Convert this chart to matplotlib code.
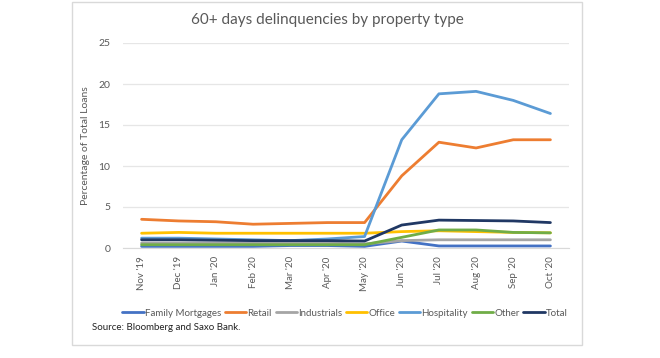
import matplotlib.pyplot as plt
from matplotlib.patches import Rectangle

plt.rcParams['font.family'] = ['Lato', 'DejaVu Sans']

# Data
months = ["Nov '19", "Dec '19", "Jan '20", "Feb '20", "Mar '20", "Apr '20",
          "May '20", "Jun '20", "Jul '20", "Aug '20", "Sep '20", "Oct '20"]

family_mortgages = [0.2, 0.2, 0.2, 0.2, 0.3, 0.3, 0.2, 0.85, 0.25, 0.25, 0.25, 0.25]
retail = [3.5, 3.3, 3.2, 2.9, 3.0, 3.1, 3.1, 8.8, 12.9, 12.2, 13.2, 13.2]
industrials = [0.6, 0.6, 0.6, 0.6, 0.6, 0.6, 0.5, 0.9, 1.0, 1.0, 1.0, 1.0]
office = [1.8, 1.9, 1.8, 1.8, 1.8, 1.8, 1.8, 2.0, 2.1, 2.0, 1.9, 1.85]
hospitality = [1.2, 1.2, 1.1, 1.0, 0.9, 1.1, 1.4, 13.2, 18.8, 19.1, 18.0, 16.4]
other = [0.4, 0.4, 0.4, 0.4, 0.4, 0.4, 0.4, 1.3, 2.2, 2.2, 1.9, 1.85]
total = [1.0, 1.0, 0.95, 0.9, 0.9, 0.9, 0.85, 2.8, 3.4, 3.35, 3.3, 3.1]

series = [
    ("Family Mortgages", family_mortgages, "#4472C4"),
    ("Retail", retail, "#ED7D31"),
    ("Industrials", industrials, "#A5A5A5"),
    ("Office", office, "#FFC000"),
    ("Hospitality", hospitality, "#5B9BD5"),
    ("Other", other, "#70AD47"),
    ("Total", total, "#203864"),
]

fig = plt.figure(figsize=(6.6, 3.58), dpi=100)
fig.patch.set_facecolor("white")

# light frame around the chart area
fig.patches.append(Rectangle((72 / 660, 1 - 345 / 358), 510 / 660, 343 / 358,
                             transform=fig.transFigure, fill=False,
                             edgecolor="#d9d9d9", linewidth=1.0))

ax = fig.add_axes([123 / 660, 110 / 358, 446 / 660, 205 / 358])

x = list(range(len(months)))
for name, vals, color in series:
    ax.plot(x, vals, color=color, linewidth=2.0, label=name, solid_capstyle="round")

ax.set_xlim(-0.5, len(months) - 0.5)
ax.set_ylim(0, 25)
ax.set_yticks([0, 5, 10, 15, 20, 25])
ax.yaxis.grid(True, color="#e6e6e6", linewidth=0.9)
ax.set_axisbelow(True)
for s in ["top", "right", "left"]:
    ax.spines[s].set_visible(False)
ax.spines["bottom"].set_color("#d9d9d9")

ax.set_xticks(x)
ax.set_xticklabels(months, rotation=90, fontsize=7, color="#595959")
ax.tick_params(axis="y", labelsize=7.5, labelcolor="#595959", length=0, pad=9)
ax.tick_params(axis="x", length=0, pad=6)

ax.set_ylabel("Percentage of Total Loans", fontsize=7.5, color="#595959", labelpad=6)

fig.text(327 / 660, 1 - 20 / 358, "60+ days delinquencies by property type",
         ha="center", va="center", fontsize=11, color="#595959")

fig.legend(loc="center", bbox_to_anchor=(345 / 660, 1 - 313 / 358), ncol=7,
           frameon=False, fontsize=7, handlelength=2.2, handletextpad=0.1,
           columnspacing=0.4, labelcolor="#595959")

fig.text(92 / 660, 1 - 328 / 358, "Source: Bloomberg and Saxo Bank.",
         ha="left", va="center", fontsize=7, color="#222222")

fig.savefig("out.png", dpi=100)
